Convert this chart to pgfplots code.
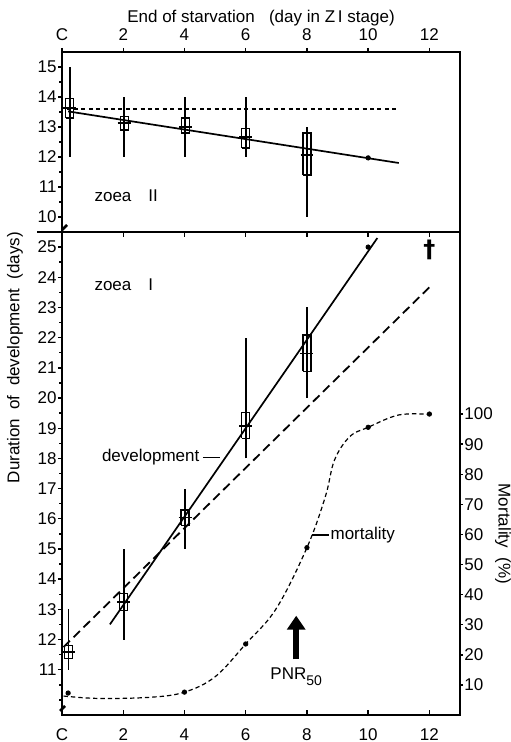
\documentclass[border=0pt]{standalone}
\usepackage{fontspec}
\setmainfont{Liberation Sans}
\newfontfamily\dejavu{DejaVu Sans}
\usepackage{pgfplots}
\pgfplotsset{compat=1.18}
\usetikzlibrary{arrows.meta}

% box: x, min, q1, median, q3, max
\newcommand{\bx}[6]{%
  \pgfmathsetmacro{\xl}{#1-0.13}\pgfmathsetmacro{\xr}{#1+0.13}%
  \pgfmathsetmacro{\ml}{#1-0.21}\pgfmathsetmacro{\mr}{#1+0.21}%
  \addplot[black, line width=0.9pt] coordinates {(#1,#2) (#1,#6)};
  \addplot[black, line width=0.6pt] coordinates {(\xl,#3) (\xr,#3) (\xr,#5) (\xl,#5) (\xl,#3)};
  \addplot[black, line width=0.8pt] coordinates {(\ml,#4) (\mr,#4)};
}

\begin{document}
\begin{tikzpicture}
\path[use as bounding box] (0pt,0pt) rectangle (255pt,371pt);
\pgfplotsset{
  base/.style={
    scale only axis, width=199pt, xmin=0, xmax=13,
    axis line style={line width=0.9pt},
    every tick/.style={black, line width=0.7pt},
    font=\fontsize{8.5}{10}\selectfont,
    tick label style={font=\fontsize{8.5}{10}\selectfont},
    label style={font=\fontsize{8.5}{10}\selectfont},
    /pgf/number format/assume math mode=true,
    major tick length=2pt, minor tick length=1.3pt,
    clip=false,
  }
}

% ---------- upper panel: zoea II ----------
\begin{axis}[base, at={(31pt,255pt)}, anchor=south west, height=90pt,
  ymin=9.5, ymax=15.5, ytick={10,11,...,15}, minor ytick={10.5,11.5,...,14.5},
  ytick pos=left, tick align=outside,
  xtick={0,2,...,12}, xticklabels={C,2,4,6,8,10,12},
  xtick pos=right, xticklabel pos=right,
  yticklabel style={inner sep=0.5pt},
  xlabel={End of starvation\ \ \ (day in Z\,I stage)},
  xlabel style={yshift=-5.5pt},
]
\addplot[black, line width=0.7pt, dash pattern=on 2pt off 1.7pt] coordinates {(0.15,13.6) (11,13.6)};
\addplot[black, line width=0.85pt] coordinates {(0.2,13.52) (11,11.8)};
\addplot[only marks, mark=*, mark size=1.1pt, black] coordinates {(10,11.97)};
\bx{0.25}{12}{13.3}{13.63}{13.96}{15}
\bx{2.03}{12}{12.9}{13.13}{13.35}{14}
\bx{4.03}{12}{12.8}{13.0}{13.3}{14}
\bx{6.0}{12}{12.3}{12.66}{12.96}{14}
\bx{8.0}{10}{11.4}{12.07}{12.8}{13}
\node[anchor=west, inner sep=0pt] at (axis cs:1.05,10.7) {zoea\quad II};
\draw[line width=1.3pt] (rel axis cs:0,0) ++(0pt,1pt) -- ++(2.5pt,2.5pt);
\end{axis}

% ---------- lower panel: zoea I (main, left axis) ----------
\begin{axis}[base, at={(31pt,13.5pt)}, anchor=south west, height=241.5pt,
  ymin=9.5, ymax=25.5, ytick={11,12,...,25}, minor ytick={10,10.5,...,25},
  ytick pos=left, tick align=outside, xtick=\empty,
  yticklabel style={inner sep=0.5pt},
]
\addplot[black, line width=0.9pt, dash pattern=on 4.5pt off 2.5pt] coordinates {(0.05,11.75) (12,23.67)};
\addplot[black, line width=0.85pt] coordinates {(1.565,12.5) (10.3,25.3)};
\addplot[only marks, mark=*, mark size=1.1pt, black] coordinates {(10,25)};
\bx{0.21}{11}{11.36}{11.58}{11.8}{13}
\bx{2.02}{12}{12.97}{13.24}{13.52}{15}
\bx{4.02}{15}{15.79}{16.04}{16.29}{17}
\bx{6.0}{18}{18.66}{19.08}{19.53}{22}
\bx{8.0}{20}{20.88}{21.48}{22.09}{23}
\node[anchor=west, inner sep=0pt] at (axis cs:1.05,23.74) {zoea\quad I};
\node[anchor=east, inner sep=0pt] at (axis cs:4.5,18.03) {development};
\draw[line width=0.6pt] (axis cs:4.6,18.03) -- (axis cs:5.15,18.03);
\node[inner sep=0pt] at (axis cs:12,24.9) {\dejavu\bfseries\fontsize{12}{12}\selectfont †};
\draw[line width=0.9pt] (rel axis cs:0,1) -- ++(-12.5pt,0pt);
\draw[line width=1.3pt] (rel axis cs:0,0) ++(-1pt,2pt) -- ++(2.5pt,2.5pt);
\node[xshift=-23.5pt, rotate=90, inner sep=0pt] at (rel axis cs:0,0.74)
  {\fontsize{8.5}{10}\selectfont Duration\ \ of\ \ development\ \ (days)};
\end{axis}

% ---------- lower panel: x ticks ----------
\begin{axis}[base, at={(31pt,13.5pt)}, anchor=south west, height=241.5pt,
  ymin=9.5, ymax=25.5, hide y axis, ytick=\empty,
  xtick={0,2,...,12}, xticklabels={C,2,4,6,8,10,12},
  xtick pos=both, xticklabel pos=left, tick align=inside, major tick length=2.5pt,
  xticklabel style={yshift=-3.5pt},
]
\end{axis}

% ---------- lower panel: mortality (right axis) ----------
\begin{axis}[base, at={(31pt,13.5pt)}, anchor=south west, height=241.5pt,
  ymin=0, ymax=160.5, axis y line*=right, axis x line=none,
  ytick={10,20,...,100}, tick align=outside, major tick length=1.5pt,
  yticklabel style={inner sep=0.5pt},
]
\addplot[black, line width=0.6pt, dash pattern=on 2.2pt off 1.5pt, smooth, tension=0.6]
  coordinates {(0.05,6.3) (1.2,5.5) (2.9,5.9) (4,7.6) (5,12.7) (6,23.6) (7,35.4)
               (8,55.6) (8.6,72.5) (8.9,84.7) (9.4,92.5) (10,95.6) (11,99.7) (12,99.9)};
\addplot[only marks, mark=*, mark size=1.1pt, black]
  coordinates {(0.2,7.3) (4,7.6) (6,23.6) (8,55.6) (10,95.6) (12,100)};
\draw[line width=0.6pt] (axis cs:8.18,59.8) -- (axis cs:8.72,59.8);
\node[anchor=west, inner sep=0pt] at (axis cs:8.76,59.8) {mortality};
\draw[line width=3pt, -{Triangle[length=7pt, width=9pt]}] (axis cs:7.65,18.5) -- (axis cs:7.65,33);
\node[inner sep=0pt] at (axis cs:7.65,12.6) {PNR\raisebox{-3pt}{\fontsize{7}{7}\selectfont 50}};
\node[xshift=21.5pt, rotate=-90, inner sep=0pt] at (rel axis cs:1,0.375)
  {\fontsize{8.5}{10}\selectfont Mortality\ \ (\%)};
\end{axis}
\end{tikzpicture}
\end{document}
